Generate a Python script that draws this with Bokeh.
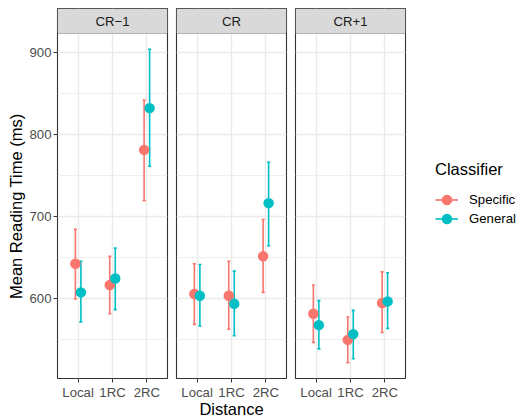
from bokeh.plotting import figure
from bokeh.models import (ColumnDataSource, FactorRange, Range1d, BoxAnnotation, Label,
                          FixedTicker, Legend, LegendItem, Title)
from bokeh.transform import dodge
from bokeh.layouts import row
from bokeh.embed import file_html
from bokeh.resources import INLINE

# ---- data -------------------------------------------------------------
panels = ["CR\u22121", "CR", "CR+1"]
distance = ["Local", "1RC", "2RC"]
groups = ["Specific", "General"]

specific_mean = [[642, 616, 781], [605, 603, 651], [581, 549, 594]]
specific_lower = [[599, 581, 719], [568, 562, 607], [546, 521, 558]]
specific_upper = [[684, 651, 842], [642, 645, 696], [616, 577, 632]]

general_mean = [[607, 624, 832], [603, 593, 716], [567, 556, 596]]
general_lower = [[571, 586, 761], [566, 554, 664], [538, 526, 563]]
general_upper = [[645, 661, 904], [641, 633, 766], [597, 585, 631]]

y_ticks = [600, 700, 800, 900]
y_minor_ticks = [550, 650, 750, 850]

# ---- styling ----------------------------------------------------------
FONT = "Liberation Sans"
TICK_FS = "13.2px"
TITLE_FS = "16.5px"
colors = {"Specific": "#F8766D", "General": "#00BFC4"}
offsets = {"Specific": -0.08, "General": 0.08}
CAP = 0.045
PANEL_H = 345
STRIP_H = 25
TOP = 8
BOTTOM = 39
GRID = "#EBEBEB"

series = {
    "Specific": (specific_mean, specific_lower, specific_upper),
    "General": (general_mean, general_lower, general_upper),
}

all_low = [v for g in (specific_lower, general_lower) for r in g for v in r]
all_up = [v for g in (specific_upper, general_upper) for r in g for v in r]
lo_raw, hi_raw = min(all_low), max(all_up)
pad = 0.05 * (hi_raw - lo_raw)
y_lo, y_hi = lo_raw - pad, hi_raw + pad
strip_h = STRIP_H * (y_hi - y_lo) / PANEL_H
strip_top = y_hi + strip_h

left_borders = [57, 5, 5]

figs = []
for i, name in enumerate(panels):
    first = i == 0
    p = figure(
        x_range=FactorRange(factors=distance, range_padding=0.1, range_padding_units="absolute"),
        y_range=Range1d(y_lo, strip_top),
        frame_width=110, frame_height=PANEL_H + STRIP_H,
        min_border_left=left_borders[i],
        min_border_right=4, min_border_top=TOP, min_border_bottom=BOTTOM,
        output_backend="svg", toolbar_location=None, tools="",
    )
    p.background_fill_color = "white"
    p.border_fill_color = "white"
    p.outline_line_color = "#333333"
    p.outline_line_width = 1.1

    ticker = FixedTicker(ticks=y_ticks, minor_ticks=y_minor_ticks)
    p.yaxis.ticker = ticker
    p.ygrid.ticker = ticker
    p.ygrid.grid_line_color = GRID
    p.ygrid.grid_line_width = 1.4
    p.ygrid.minor_grid_line_color = GRID
    p.ygrid.minor_grid_line_width = 0.8
    p.xgrid.grid_line_color = GRID
    p.xgrid.grid_line_width = 1.4

    for ax in (p.xaxis, p.yaxis):
        ax.axis_line_color = None
        ax.major_tick_line_color = "#333333"
        ax.major_tick_out = 4
        ax.major_tick_in = 0
        ax.minor_tick_line_color = None
        ax.major_label_text_font = FONT
        ax.major_label_text_font_size = TICK_FS
        ax.major_label_text_color = "#4D4D4D"
        ax.major_label_standoff = 2
        ax.axis_label_text_font = FONT
        ax.axis_label_text_font_size = TITLE_FS
        ax.axis_label_text_font_style = "normal"
        ax.axis_label_text_color = "black"
        ax.axis_label_standoff = 1

    if first:
        # y-axis title, centred on the panel body (below the strip)
        ytitle = Title(text="Mean Reading Time (ms)", align="left", vertical_align="bottom",
                       offset=79.5, standoff=4, text_font=FONT, text_font_size=TITLE_FS,
                       text_font_style="normal", text_color="black")
        p.add_layout(ytitle, "left")
    else:
        p.yaxis.visible = False
    if i == 1:
        p.xaxis.axis_label = "Distance"
        p.xaxis.axis_label_standoff = -3

    for g in groups:
        mean, lower, upper = series[g]
        src = ColumnDataSource(dict(dist=distance, mean=mean[i], lower=lower[i], upper=upper[i]))
        c = colors[g]
        off = offsets[g]
        p.segment(x0=dodge("dist", off, range=p.x_range), y0="lower",
                  x1=dodge("dist", off, range=p.x_range), y1="upper",
                  source=src, line_color=c, line_width=1.6)
        for col in ("lower", "upper"):
            p.segment(x0=dodge("dist", off - CAP, range=p.x_range), y0=col,
                      x1=dodge("dist", off + CAP, range=p.x_range), y1=col,
                      source=src, line_color=c, line_width=1.6)
    for g in groups:
        src = ColumnDataSource(dict(dist=distance, mean=series[g][0][i]))
        p.scatter(x=dodge("dist", offsets[g], range=p.x_range), y="mean", source=src,
                  size=7.5, fill_color=colors[g], line_color=colors[g], line_width=3)

    strip = BoxAnnotation(bottom=y_hi, fill_color="#D9D9D9", fill_alpha=1,
                          line_color="#333333", line_width=1)
    p.add_layout(strip)
    p.add_layout(Label(x=1.5, y=y_hi + strip_h / 2, text=name, text_align="center",
                       text_baseline="middle", text_font=FONT, text_font_size=TICK_FS,
                       text_color="#1A1A1A"))
    figs.append(p)

# ---- legend (own blank figure to the right) ---------------------------
lf = figure(x_range=Range1d(0, 1), y_range=Range1d(0, 1),
            frame_width=110, frame_height=PANEL_H + STRIP_H,
            min_border_left=0, min_border_right=0, min_border_top=TOP, min_border_bottom=BOTTOM,
            output_backend="svg", toolbar_location=None, tools="")
lf.axis.visible = False
lf.grid.visible = False
lf.outline_line_color = None
lf.background_fill_color = "white"
lf.border_fill_color = "white"
items = []
for g in groups:
    dummy = ColumnDataSource(dict(x=[float("nan")], y=[float("nan")]))
    seg = lf.segment(x0="x", y0="y", x1="x", y1="y", source=dummy,
                     line_color=colors[g], line_width=1.6)
    pt = lf.scatter(x="x", y="y", source=dummy, size=7.5, fill_color=colors[g],
                    line_color=colors[g], line_width=3)
    items.append(LegendItem(label=g, renderers=[seg, pt]))
legend = Legend(items=items, title="Classifier", location=(26, 150))
legend.title_text_font = FONT
legend.title_text_font_size = TITLE_FS
legend.title_text_font_style = "normal"
legend.title_text_color = "black"
legend.title_standoff = 11
legend.label_text_font = FONT
legend.label_text_font_size = TICK_FS
legend.label_text_color = "black"
legend.glyph_width = 23
legend.glyph_height = 19
legend.label_height = 19
legend.spacing = 0
legend.label_standoff = 11
legend.margin = 0
legend.padding = 0
legend.border_line_color = None
legend.background_fill_alpha = 0
lf.add_layout(legend)
figs.append(lf)

layout = row(*figs)
open("out.html", "w").write(file_html(layout, INLINE))
